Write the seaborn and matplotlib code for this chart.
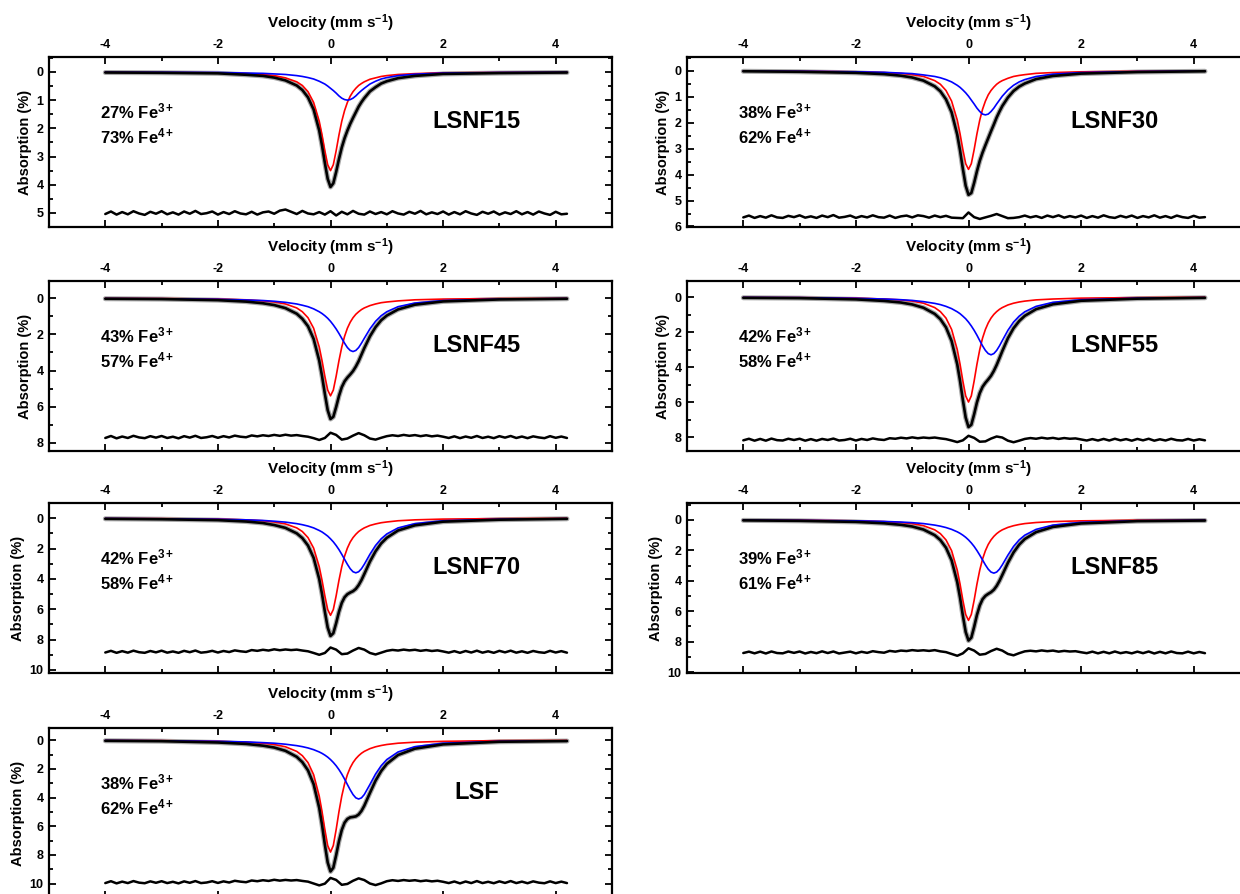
import numpy as np
import matplotlib
matplotlib.use("Agg")
import matplotlib.pyplot as plt
import seaborn as sns
from matplotlib.ticker import MultipleLocator

sns.set_theme(style="ticks")
plt.rcParams['font.family'] = ['Liberation Sans', 'DejaVu Sans']
plt.rcParams['font.weight'] = 'bold'
plt.rcParams['text.color'] = 'black'
plt.rcParams['axes.labelcolor'] = 'black'
plt.rcParams['xtick.color'] = 'black'
plt.rcParams['ytick.color'] = 'black'
plt.rcParams['axes.edgecolor'] = 'black'
plt.rcParams['mathtext.fontset'] = 'custom'
plt.rcParams['mathtext.rm'] = 'Liberation Sans:bold'
plt.rcParams['mathtext.bf'] = 'Liberation Sans:bold'
plt.rcParams['mathtext.it'] = 'Liberation Sans:bold'
plt.rcParams['mathtext.default'] = 'bf'
plt.rcParams['axes.unicode_minus'] = False

# ---------------- data ----------------
samples = ["LSNF15", "LSNF30", "LSNF45", "LSNF55", "LSNF70", "LSNF85", "LSF"]
fe3_pct = [27, 38, 43, 42, 42, 39, 38]
fe4_pct = [73, 62, 57, 58, 58, 61, 62]

velocity = [-4.0, -3.0, -2.0, -1.5, -1.2, -1.0, -0.8, -0.6, -0.5, -0.4, -0.3, -0.2,
            -0.15, -0.1, -0.05, 0.0, 0.05, 0.1, 0.15, 0.2, 0.25, 0.3, 0.35, 0.4,
            0.45, 0.5, 0.55, 0.6, 0.7, 0.8, 0.9, 1.0, 1.2, 1.5, 2.0, 3.0, 4.2]

res_velocity = [-4.0, -3.9, -3.8, -3.7, -3.6, -3.5, -3.4, -3.3, -3.2, -3.1,
                -3.0, -2.9, -2.8, -2.7, -2.6, -2.5, -2.4, -2.3, -2.2, -2.1,
                -2.0, -1.9, -1.8, -1.7, -1.6, -1.5, -1.4, -1.3, -1.2, -1.1,
                -1.0, -0.9, -0.8, -0.7, -0.6, -0.5, -0.4, -0.3, -0.2, -0.1,
                0.0, 0.1, 0.2, 0.3, 0.4, 0.5, 0.6, 0.7, 0.8, 0.9,
                1.0, 1.1, 1.2, 1.3, 1.4, 1.5, 1.6, 1.7, 1.8, 1.9,
                2.0, 2.1, 2.2, 2.3, 2.4, 2.5, 2.6, 2.7, 2.8, 2.9,
                3.0, 3.1, 3.2, 3.3, 3.4, 3.5, 3.6, 3.7, 3.8, 3.9,
                4.0, 4.1, 4.2]

# Fe4+ component (red), Fe3+ component (blue), total fit (black)
fe4_LSNF15 = [0.01, 0.02, 0.03, 0.06, 0.09, 0.13, 0.21, 0.35, 0.48, 0.70, 1.08, 1.75, 2.24, 2.80, 3.29, 3.50, 3.29, 2.80, 2.24, 1.75, 1.37, 1.08, 0.86, 0.70, 0.58, 0.48, 0.41, 0.35, 0.26, 0.21, 0.16, 0.13, 0.09, 0.06, 0.03, 0.02, 0.01]
fe3_LSNF15 = [0.01, 0.01, 0.02, 0.04, 0.05, 0.07, 0.09, 0.13, 0.16, 0.20, 0.25, 0.33, 0.38, 0.43, 0.50, 0.58, 0.66, 0.75, 0.85, 0.93, 0.98, 1.00, 0.98, 0.93, 0.85, 0.75, 0.66, 0.58, 0.43, 0.33, 0.25, 0.20, 0.13, 0.08, 0.04, 0.02, 0.01]
tot_LSNF15 = [0.02, 0.03, 0.05, 0.10, 0.14, 0.20, 0.30, 0.48, 0.64, 0.90, 1.33, 2.08, 2.62, 3.23, 3.79, 4.08, 3.95, 3.55, 3.09, 2.68, 2.35, 2.08, 1.84, 1.63, 1.43, 1.23, 1.07, 0.93, 0.69, 0.54, 0.41, 0.33, 0.22, 0.14, 0.07, 0.04, 0.02]

fe4_LSNF30 = [0.01, 0.02, 0.04, 0.07, 0.10, 0.15, 0.22, 0.38, 0.52, 0.76, 1.17, 1.90, 2.43, 3.04, 3.58, 3.80, 3.58, 3.04, 2.43, 1.90, 1.48, 1.17, 0.93, 0.76, 0.63, 0.52, 0.44, 0.38, 0.29, 0.22, 0.18, 0.15, 0.10, 0.07, 0.04, 0.02, 0.01]
fe3_LSNF30 = [0.01, 0.02, 0.04, 0.06, 0.09, 0.11, 0.16, 0.22, 0.27, 0.34, 0.43, 0.56, 0.64, 0.74, 0.85, 0.98, 1.13, 1.28, 1.44, 1.57, 1.67, 1.70, 1.67, 1.57, 1.44, 1.28, 1.13, 0.98, 0.74, 0.56, 0.43, 0.34, 0.22, 0.13, 0.07, 0.03, 0.01]
tot_LSNF30 = [0.02, 0.04, 0.08, 0.13, 0.19, 0.26, 0.38, 0.60, 0.79, 1.10, 1.60, 2.46, 3.07, 3.78, 4.43, 4.78, 4.71, 4.32, 3.87, 3.47, 3.15, 2.87, 2.60, 2.33, 2.07, 1.80, 1.57, 1.36, 1.03, 0.78, 0.61, 0.49, 0.32, 0.20, 0.11, 0.05, 0.02]

fe4_LSNF45 = [0.01, 0.02, 0.05, 0.09, 0.15, 0.21, 0.32, 0.54, 0.75, 1.08, 1.66, 2.70, 3.46, 4.32, 5.08, 5.40, 5.08, 4.32, 3.46, 2.70, 2.11, 1.66, 1.33, 1.08, 0.89, 0.75, 0.63, 0.54, 0.41, 0.32, 0.25, 0.21, 0.15, 0.09, 0.05, 0.02, 0.01]
fe3_LSNF45 = [0.02, 0.03, 0.06, 0.10, 0.13, 0.17, 0.23, 0.32, 0.39, 0.47, 0.59, 0.75, 0.85, 0.97, 1.11, 1.28, 1.48, 1.70, 1.95, 2.22, 2.49, 2.73, 2.89, 2.95, 2.89, 2.73, 2.49, 2.22, 1.70, 1.28, 0.97, 0.75, 0.47, 0.27, 0.13, 0.05, 0.02]
tot_LSNF45 = [0.03, 0.05, 0.11, 0.19, 0.28, 0.38, 0.55, 0.86, 1.14, 1.55, 2.25, 3.45, 4.31, 5.29, 6.19, 6.68, 6.56, 6.02, 5.41, 4.92, 4.60, 4.39, 4.22, 4.03, 3.78, 3.48, 3.12, 2.76, 2.11, 1.60, 1.22, 0.96, 0.62, 0.36, 0.18, 0.07, 0.03]

fe4_LSNF55 = [0.02, 0.03, 0.06, 0.11, 0.16, 0.23, 0.35, 0.60, 0.83, 1.20, 1.85, 3.00, 3.84, 4.80, 5.65, 6.00, 5.65, 4.80, 3.84, 3.00, 2.34, 1.85, 1.48, 1.20, 0.99, 0.83, 0.70, 0.60, 0.45, 0.35, 0.28, 0.23, 0.16, 0.11, 0.06, 0.03, 0.01]
fe3_LSNF55 = [0.02, 0.03, 0.07, 0.11, 0.15, 0.19, 0.26, 0.36, 0.43, 0.53, 0.66, 0.84, 0.95, 1.09, 1.24, 1.43, 1.65, 1.90, 2.18, 2.49, 2.79, 3.05, 3.23, 3.30, 3.23, 3.05, 2.79, 2.49, 1.90, 1.43, 1.09, 0.84, 0.53, 0.30, 0.15, 0.06, 0.03]
tot_LSNF55 = [0.04, 0.06, 0.13, 0.22, 0.31, 0.42, 0.61, 0.96, 1.26, 1.73, 2.51, 3.84, 4.79, 5.89, 6.89, 7.43, 7.30, 6.70, 6.02, 5.49, 5.13, 4.90, 4.71, 4.50, 4.22, 3.88, 3.49, 3.09, 2.35, 1.78, 1.37, 1.07, 0.69, 0.41, 0.21, 0.09, 0.04]

fe4_LSNF70 = [0.02, 0.03, 0.06, 0.11, 0.17, 0.25, 0.38, 0.64, 0.88, 1.28, 1.97, 3.20, 4.10, 5.12, 6.02, 6.40, 6.02, 5.12, 4.10, 3.20, 2.50, 1.97, 1.57, 1.28, 1.06, 0.88, 0.75, 0.64, 0.48, 0.38, 0.30, 0.25, 0.17, 0.11, 0.06, 0.03, 0.01]
fe3_LSNF70 = [0.02, 0.04, 0.07, 0.11, 0.15, 0.20, 0.26, 0.36, 0.43, 0.52, 0.64, 0.81, 0.91, 1.04, 1.18, 1.36, 1.56, 1.80, 2.07, 2.38, 2.71, 3.04, 3.33, 3.53, 3.60, 3.53, 3.33, 3.04, 2.38, 1.80, 1.36, 1.04, 0.64, 0.36, 0.17, 0.07, 0.03]
tot_LSNF70 = [0.04, 0.07, 0.13, 0.22, 0.32, 0.45, 0.64, 1.00, 1.31, 1.80, 2.61, 4.01, 5.01, 6.16, 7.20, 7.76, 7.58, 6.92, 6.17, 5.58, 5.21, 5.01, 4.90, 4.81, 4.66, 4.41, 4.08, 3.68, 2.86, 2.18, 1.66, 1.29, 0.81, 0.47, 0.23, 0.10, 0.04]

fe4_LSNF85 = [0.02, 0.03, 0.07, 0.12, 0.18, 0.25, 0.39, 0.66, 0.91, 1.32, 2.03, 3.30, 4.22, 5.28, 6.21, 6.60, 6.21, 5.28, 4.22, 3.30, 2.57, 2.03, 1.62, 1.32, 1.09, 0.91, 0.77, 0.66, 0.50, 0.39, 0.31, 0.25, 0.18, 0.12, 0.07, 0.03, 0.02]
fe3_LSNF85 = [0.02, 0.04, 0.07, 0.11, 0.15, 0.19, 0.25, 0.35, 0.42, 0.51, 0.63, 0.79, 0.89, 1.01, 1.15, 1.32, 1.52, 1.75, 2.02, 2.32, 2.64, 2.96, 3.24, 3.43, 3.50, 3.43, 3.24, 2.96, 2.32, 1.75, 1.32, 1.01, 0.63, 0.35, 0.17, 0.06, 0.03]
tot_LSNF85 = [0.04, 0.07, 0.14, 0.23, 0.33, 0.44, 0.64, 1.01, 1.33, 1.83, 2.66, 4.09, 5.11, 6.29, 7.36, 7.92, 7.73, 7.03, 6.24, 5.62, 5.21, 4.99, 4.86, 4.75, 4.59, 4.34, 4.01, 3.62, 2.82, 2.14, 1.63, 1.26, 0.81, 0.47, 0.24, 0.09, 0.05]

fe4_LSF = [0.02, 0.03, 0.08, 0.14, 0.21, 0.30, 0.46, 0.78, 1.08, 1.56, 2.40, 3.90, 4.99, 6.24, 7.34, 7.80, 7.34, 6.24, 4.99, 3.90, 3.04, 2.40, 1.92, 1.56, 1.29, 1.08, 0.91, 0.78, 0.59, 0.46, 0.37, 0.30, 0.21, 0.14, 0.08, 0.03, 0.02]
fe3_LSF = [0.02, 0.04, 0.08, 0.12, 0.17, 0.21, 0.28, 0.38, 0.45, 0.54, 0.66, 0.82, 0.92, 1.04, 1.18, 1.35, 1.55, 1.78, 2.05, 2.36, 2.71, 3.09, 3.46, 3.79, 4.02, 4.10, 4.02, 3.79, 3.09, 2.36, 1.78, 1.35, 0.82, 0.45, 0.21, 0.08, 0.04]
tot_LSF = [0.04, 0.07, 0.16, 0.26, 0.38, 0.51, 0.74, 1.16, 1.53, 2.10, 3.06, 4.72, 5.91, 7.28, 8.52, 9.15, 8.89, 8.02, 7.04, 6.26, 5.75, 5.49, 5.38, 5.35, 5.31, 5.18, 4.93, 4.57, 3.68, 2.82, 2.15, 1.65, 1.03, 0.59, 0.29, 0.11, 0.06]

# residuals (deviation from their baseline)
res_LSNF15 = [0.04, -0.05, 0.06, -0.03, 0.05, -0.06, 0.02, 0.07, -0.04, 0.03,
              -0.06, 0.05, -0.02, 0.06, -0.05, 0.03, -0.07, 0.04, 0.01, -0.05,
              0.06, -0.03, 0.04, -0.06, 0.02, 0.05, -0.04, 0.06, -0.02, -0.05,
              0.03, -0.08, -0.12, -0.04, 0.04, -0.07, 0.02, 0.05, -0.03, 0.06,
              -0.06, 0.09, -0.04, 0.05, -0.07, 0.03, 0.06, -0.05, 0.04, -0.03,
              0.05, -0.06, 0.02, 0.06, -0.04, 0.03, -0.07, 0.05, -0.02, 0.04,
              -0.05, 0.06, -0.03, 0.05, -0.06, 0.02, 0.07, -0.04, 0.03, -0.05,
              0.06, -0.02, 0.04, -0.06, 0.05, -0.03, 0.06, -0.05, 0.02, 0.07,
              -0.04, 0.05, 0.03]
res_LSNF30 = [0.03, -0.04, 0.05, -0.02, 0.04, -0.05, 0.03, 0.05, -0.03, 0.02,
              -0.05, 0.04, -0.01, 0.05, -0.04, 0.02, -0.06, 0.04, 0.01, -0.04,
              0.05, -0.02, 0.03, -0.05, 0.02, 0.04, -0.04, 0.05, -0.01, -0.04,
              0.03, -0.05, -0.02, 0.04, -0.04, 0.02, -0.03, 0.04, 0.05, 0.06,
              -0.16, 0.02, 0.09, 0.03, -0.03, -0.10, -0.02, 0.06, 0.05, 0.02,
              -0.04, 0.03, -0.02, 0.05, -0.04, 0.02, -0.05, 0.04, -0.02, 0.03,
              -0.04, 0.05, -0.02, 0.04, -0.05, 0.02, 0.05, -0.03, 0.03, -0.04,
              0.05, -0.02, 0.03, -0.05, 0.04, -0.02, 0.05, -0.04, 0.02, 0.05,
              -0.03, 0.04, 0.02]
res_LSNF45 = [0.05, -0.06, 0.07, -0.03, 0.05, -0.07, 0.02, 0.06, -0.05, 0.03,
              -0.06, 0.05, -0.02, 0.07, -0.05, 0.03, -0.07, 0.05, 0.01, -0.06,
              0.04, -0.05, 0.02, -0.08, -0.02, 0.01, -0.09, -0.04, -0.10, -0.06,
              -0.12, -0.07, -0.13, -0.08, -0.11, -0.06, -0.02, 0.06, 0.16, 0.05,
              -0.24, -0.12, 0.14, 0.08, -0.08, -0.22, -0.10, 0.08, 0.14, 0.04,
              -0.05, -0.10, -0.06, -0.12, -0.07, -0.11, -0.05, -0.10, -0.04, -0.08,
              -0.02, 0.05, -0.04, 0.06, -0.03, 0.04, -0.06, 0.05, -0.02, 0.06,
              -0.05, 0.03, -0.06, 0.05, -0.03, 0.06, -0.04, 0.02, 0.06, -0.05,
              0.04, -0.03, 0.05]
res_LSNF55 = [0.04, -0.05, 0.06, -0.04, 0.06, -0.06, 0.03, 0.05, -0.05, 0.02,
              -0.05, 0.06, -0.03, 0.06, -0.04, 0.02, -0.06, 0.05, 0.02, -0.05,
              0.05, -0.04, 0.02, -0.07, -0.01, 0.02, -0.08, -0.05, -0.11, -0.07,
              -0.13, -0.08, -0.12, -0.09, -0.12, -0.07, -0.03, 0.05, 0.14, 0.04,
              -0.22, -0.10, 0.12, 0.10, -0.06, -0.18, -0.12, 0.06, 0.15, 0.06,
              -0.04, -0.09, -0.05, -0.11, -0.06, -0.10, -0.04, -0.09, -0.05, -0.07,
              -0.01, 0.05, -0.03, 0.05, -0.04, 0.05, -0.05, 0.04, -0.03, 0.06,
              -0.04, 0.04, -0.05, 0.06, -0.02, 0.05, -0.05, 0.03, 0.05, -0.04,
              0.05, -0.02, 0.04]
res_LSNF70 = [0.05, -0.06, 0.07, -0.04, 0.06, -0.07, 0.03, 0.07, -0.05, 0.04,
              -0.07, 0.06, -0.02, 0.07, -0.06, 0.03, -0.08, 0.06, 0.02, -0.06,
              0.05, -0.05, 0.02, -0.09, -0.03, 0.01, -0.11, -0.06, -0.13, -0.08,
              -0.16, -0.10, -0.15, -0.11, -0.14, -0.08, -0.03, 0.08, 0.20, 0.08,
              -0.28, -0.14, 0.16, 0.12, -0.08, -0.25, -0.14, 0.08, 0.18, 0.06,
              -0.06, -0.12, -0.08, -0.14, -0.09, -0.13, -0.06, -0.11, -0.05, -0.09,
              -0.02, 0.06, -0.04, 0.07, -0.05, 0.05, -0.07, 0.06, -0.03, 0.07,
              -0.06, 0.04, -0.07, 0.06, -0.03, 0.07, -0.05, 0.03, 0.07, -0.06,
              0.05, -0.04, 0.06]
res_LSNF85 = [0.04, -0.05, 0.06, -0.05, 0.07, -0.06, 0.04, 0.06, -0.06, 0.03,
              -0.06, 0.07, -0.03, 0.05, -0.07, 0.04, -0.06, 0.07, 0.01, -0.05,
              0.06, -0.04, 0.03, -0.08, -0.02, 0.02, -0.10, -0.05, -0.12, -0.09,
              -0.15, -0.11, -0.14, -0.10, -0.15, -0.07, -0.02, 0.10, 0.22, 0.06,
              -0.27, -0.12, 0.15, 0.10, -0.09, -0.24, -0.12, 0.10, 0.19, 0.05,
              -0.07, -0.11, -0.07, -0.13, -0.08, -0.12, -0.05, -0.10, -0.06, -0.08,
              -0.01, 0.05, -0.05, 0.06, -0.04, 0.06, -0.06, 0.05, -0.02, 0.06,
              -0.05, 0.05, -0.06, 0.07, -0.04, 0.06, -0.06, 0.04, 0.06, -0.05,
              0.06, -0.03, 0.05]
res_LSF = [0.06, -0.07, 0.08, -0.04, 0.06, -0.08, 0.03, 0.07, -0.06, 0.04,
           -0.07, 0.06, -0.03, 0.08, -0.06, 0.04, -0.08, 0.06, 0.02, -0.07,
           0.05, -0.06, 0.02, -0.10, -0.04, 0.00, -0.12, -0.07, -0.14, -0.09,
           -0.17, -0.11, -0.16, -0.12, -0.15, -0.09, -0.04, 0.09, 0.22, 0.10,
           -0.30, -0.16, 0.18, 0.12, -0.10, -0.27, -0.15, 0.09, 0.20, 0.08,
           -0.07, -0.14, -0.09, -0.15, -0.10, -0.14, -0.07, -0.12, -0.06, -0.10,
           -0.03, 0.06, -0.05, 0.08, -0.05, 0.06, -0.08, 0.06, -0.03, 0.07,
           -0.06, 0.05, -0.08, 0.06, -0.04, 0.07, -0.06, 0.03, 0.07, -0.06,
           0.06, -0.04, 0.06]

fe4_fits = [fe4_LSNF15, fe4_LSNF30, fe4_LSNF45, fe4_LSNF55, fe4_LSNF70, fe4_LSNF85, fe4_LSF]
fe3_fits = [fe3_LSNF15, fe3_LSNF30, fe3_LSNF45, fe3_LSNF55, fe3_LSNF70, fe3_LSNF85, fe3_LSF]
tot_fits = [tot_LSNF15, tot_LSNF30, tot_LSNF45, tot_LSNF55, tot_LSNF70, tot_LSNF85, tot_LSF]
residuals = [res_LSNF15, res_LSNF30, res_LSNF45, res_LSNF55, res_LSNF70, res_LSNF85, res_LSF]
res_baseline = [5.0, 5.62, 7.68, 8.15, 8.8, 8.7, 9.9]

# ---------------- layout ----------------
y_limits = [(5.5, -0.53), (6.02, -0.53), (8.45, -0.95), (8.8, -0.92),
            (10.2, -1.0), (10.05, -1.1), (11.0, -0.85)]
y_major = [1, 1, 2, 2, 2, 2, 2]
grid_pos = [(0, 0), (1, 0), (0, 1), (1, 1), (0, 2), (1, 2), (0, 3)]

W, H = 1240, 894
fig = plt.figure(figsize=(W / 100, H / 100), dpi=100)
fig.patch.set_facecolor("white")

col_x = [49, 687]
row_top = [57, 281, 503, 728]
ax_w, ax_h = 563, 170

for i, name in enumerate(samples):
    c, r = grid_pos[i]
    rect = [col_x[c] / W, 1 - (row_top[r] + ax_h) / H, ax_w / W, ax_h / H]
    ax = fig.add_axes(rect)
    ax.set_facecolor("white")

    v = np.array(velocity)
    # experimental data halo
    sns.lineplot(x=v, y=np.array(tot_fits[i]), color="#a8a8a8", linewidth=3.6,
                 ax=ax, sort=False, estimator=None)
    sns.lineplot(x=v, y=np.array(fe4_fits[i]), color="#ff0000", linewidth=1.2,
                 ax=ax, sort=False, estimator=None)
    sns.lineplot(x=v, y=np.array(fe3_fits[i]), color="#0000ff", linewidth=1.2,
                 ax=ax, sort=False, estimator=None)
    sns.lineplot(x=v, y=np.array(tot_fits[i]), color="black", linewidth=1.9,
                 ax=ax, sort=False, estimator=None)
    sns.lineplot(x=np.array(res_velocity), y=np.array(residuals[i]) + res_baseline[i],
                 color="black", linewidth=1.8, ax=ax, sort=False, estimator=None)

    ax.set_xlim(-5, 5)
    ax.set_ylim(*y_limits[i])
    ax.xaxis.set_major_locator(MultipleLocator(2))
    ax.xaxis.set_minor_locator(MultipleLocator(1))
    ax.yaxis.set_major_locator(MultipleLocator(y_major[i]))
    ax.yaxis.set_minor_locator(MultipleLocator(y_major[i] / 2))
    ax.tick_params(which="both", direction="in", top=True, right=True, bottom=True, left=True,
                   labeltop=True, labelbottom=False, width=1.3, colors="black")
    ax.tick_params(which="major", length=5, labelsize=9)
    ax.tick_params(which="minor", length=3)
    ax.tick_params(axis="x", which="major", pad=4)
    ax.tick_params(axis="y", which="major", pad=4)
    for lab in ax.get_xticklabels() + ax.get_yticklabels():
        lab.set_fontweight("bold")
        lab.set_color("black")
    for sp in ax.spines.values():
        sp.set_linewidth(1.6)
        sp.set_color("black")
        sp.set_visible(True)
    ax.xaxis.set_label_position("top")
    ax.set_xlabel(r"Velocity (mm s$^{-1}$)", fontsize=11, fontweight="bold",
                  labelpad=8, color="black")
    ax.set_ylabel("Absorption (%)", fontsize=10.5, fontweight="bold",
                  labelpad=3, color="black")

    ax.text(0.09, 0.68, f"{fe3_pct[i]}% Fe$^{{3+}}$", transform=ax.transAxes,
            fontsize=12, fontweight="bold", ha="left", va="center", color="black")
    ax.text(0.09, 0.53, f"{fe4_pct[i]}% Fe$^{{4+}}$", transform=ax.transAxes,
            fontsize=12, fontweight="bold", ha="left", va="center", color="black")
    ax.text(0.76, 0.62, name, transform=ax.transAxes,
            fontsize=17, fontweight="bold", ha="center", va="center", color="black")

fig.savefig("out.png", dpi=100, facecolor="white")
